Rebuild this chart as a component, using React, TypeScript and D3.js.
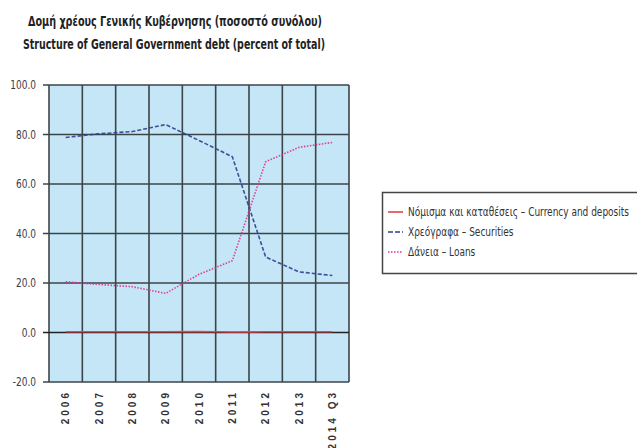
import * as d3 from "d3";

const categories = ["2006", "2007", "2008", "2009", "2010", "2011", "2012", "2013", "2014 Q3"];
const currency = [0.3, 0.3, 0.3, 0.3, 0.4, 0.2, 0.3, 0.3, 0.3];
const securities = [78.8, 80.3, 81.2, 84.0, 77.6, 71.0, 30.5, 24.5, 23.0];
const loans = [20.5, 19.4, 18.5, 15.8, 23.5, 29.0, 69.0, 74.8, 76.8];
const yTicks = [-20, 0, 20, 40, 60, 80, 100];

const titleLines = [
  "Δομή χρέους Γενικής Κυβέρνησης (ποσοστό συνόλου)",
  "Structure of General Government debt (percent of total)",
];
const legendLabels = [
  "Νόμισμα και καταθέσεις – Currency and deposits",
  "Χρεόγραφα – Securities",
  "Δάνεια – Loans",
];

const narrow = "'Liberation Sans Narrow', 'DejaVu Sans Condensed', Arial, sans-serif";
const fmt = (v: number) => v.toFixed(1); // plain hyphen for negatives, like the source

export default function App() {
  const width = 637;
  const height = 448;
  const plot = { left: 49, right: 349, top: 85, bottom: 382 };

  const x = d3
    .scaleBand<string>()
    .domain(categories)
    .range([plot.left, plot.right]);
  const y = d3.scaleLinear().domain([-20, 100]).range([plot.bottom, plot.top]);

  const line = d3
    .line<number>()
    .x((_, i) => (x(categories[i]) as number) + x.bandwidth() / 2)
    .y((d) => y(d));

  const series = [
    { values: currency, color: "#e8404a", dash: "none", width: 1.6 },
    { values: securities, color: "#2e3f8f", dash: "4,2", width: 1.6 },
    { values: loans, color: "#e0308f", dash: "1.5,1.5", width: 1.6 },
  ];

  const gridColor = "#3c4448";
  // band edges for vertical grid
  const edges = categories.map((c) => x(c) as number).concat([plot.right]);

  return (
    <svg
      width={width}
      height={height}
      style={{ position: "absolute", left: 0, top: 0, background: "#fff" }}
    >
      {/* title */}
      <text
        x={28}
        y={26}
        textLength={294}
        lengthAdjust="spacingAndGlyphs"
        fontFamily={narrow}
        fontWeight="bold"
        fontSize={14}
        fill="#222"
      >
        {titleLines[0]}
      </text>
      <text
        x={23}
        y={49}
        textLength={302}
        lengthAdjust="spacingAndGlyphs"
        fontFamily={narrow}
        fontWeight="bold"
        fontSize={14}
        fill="#222"
      >
        {titleLines[1]}
      </text>

      {/* plot background */}
      <rect
        x={plot.left}
        y={plot.top}
        width={plot.right - plot.left}
        height={plot.bottom - plot.top}
        fill="#c4e6f6"
      />

      {/* vertical grid */}
      {edges.map((ex, i) => (
        <line
          key={"v" + i}
          x1={ex}
          x2={ex}
          y1={plot.top}
          y2={plot.bottom}
          stroke={gridColor}
          strokeWidth={1.6}
        />
      ))}

      {/* horizontal grid + y ticks */}
      {yTicks.map((t) => (
        <g key={"h" + t}>
          <line
            x1={43}
            x2={plot.right}
            y1={y(t)}
            y2={y(t)}
            stroke={t === 0 ? "#222" : gridColor}
            strokeWidth={1.6}
          />
          <text
            transform={`translate(36,${y(t)}) scale(0.8,1)`}
            dy="0.35em"
            textAnchor="end"
            fontFamily={narrow}
            fontSize={12.5}
            fill="#3a3a48"
          >
            {fmt(t)}
          </text>
        </g>
      ))}

      {/* series */}
      {series.map((s, i) => (
        <path
          key={"s" + i}
          d={line(s.values) as string}
          fill="none"
          stroke={s.color}
          strokeWidth={s.width}
          strokeDasharray={s.dash}
          opacity={0.9}
        />
      ))}

      {/* x labels */}
      {categories.map((c) => {
        const cx = (x(c) as number) + x.bandwidth() / 2;
        return (
          <text
            key={"x" + c}
            transform={`translate(${cx + 3.5},390) rotate(-90)`}
            textAnchor="end"
            fontFamily="Arial, 'Liberation Sans', sans-serif"
            fontWeight="bold"
            fontSize={10}
            letterSpacing={3}
            fill="#333"
          >
            {c}
          </text>
        );
      })}

      {/* legend */}
      <rect x={382.5} y={192.5} width={270} height={81} fill="#fff" stroke="#444" strokeWidth={1.5} />
      {series.map((s, i) => (
        <g key={"l" + i} transform={`translate(0,${212 + i * 20})`}>
          <line
            x1={388}
            x2={403}
            y1={0}
            y2={0}
            stroke={s.color}
            strokeWidth={1.6}
            strokeDasharray={i === 1 ? "5,2" : s.dash}
          />
          <text
            transform="translate(408,0) scale(1,1.25)"
            dy="0.35em"
            fontFamily={narrow}
            fontSize={10}
            fill="#333"
          >
            {legendLabels[i]}
          </text>
        </g>
      ))}
    </svg>
  );
}
